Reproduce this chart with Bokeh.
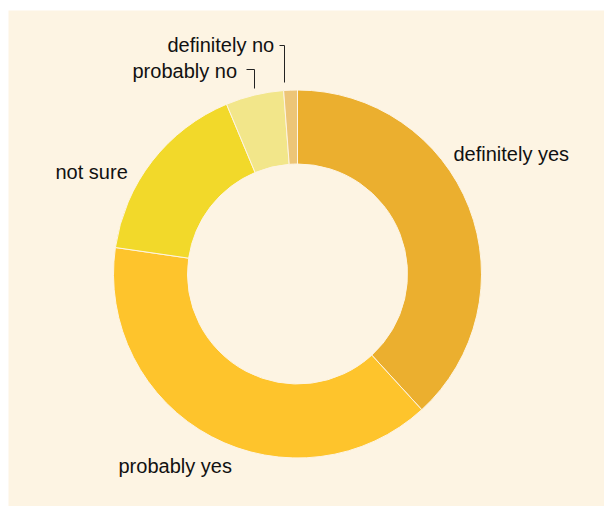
import numpy as np
from bokeh.plotting import figure
from bokeh.models import ColumnDataSource
from bokeh.core.properties import value
from bokeh.embed import file_html
from bokeh.resources import INLINE

# ---- data ----
categories = ["definitely yes", "probably yes", "not sure", "probably no", "definitely no"]
shares = [38.2, 39.1, 16.4, 5.1, 1.2]
colors = ["#EBAF2F", "#FEC42C", "#F2D92A", "#F2E68A", "#EDC577"]

# ---- layout (page pixel coordinates) ----
BG = "#FDF4E3"
W, H = 596, 496
OX, OY = 8, 10          # figure origin on the page
CX, CY = 297, 273.5     # donut centre on the page
R_OUT, R_IN = 184, 110

label_pos = {            # left x, middle y (page px)
    "definitely yes": (453, 153),
    "probably yes": (118, 465),
    "not sure": (55, 171),
    "probably no": (132, 70),
    "definitely no": (167, 44),
}
leaders = {
    "probably no": [(246, 69), (254, 69), (254, 88)],
    "definitely no": [(279, 45), (284, 45), (284, 82)],
}

def px(x):
    return x - OX

def py(y):
    return H - (y - OY)

# ---- wedges ----
vals = np.array(shares, dtype=float)
frac = vals / vals.sum()
cum = np.concatenate([[0.0], np.cumsum(frac)])
start = np.pi / 2 - cum[:-1] * 2 * np.pi
end = np.pi / 2 - cum[1:] * 2 * np.pi

src = ColumnDataSource(dict(cat=categories, start=start, end=end, color=colors))

p = figure(width=W, height=H, x_range=(0, W), y_range=(0, H),
           output_backend="svg", toolbar_location=None, min_border=0)
p.margin = (OY, 0, 0, OX)
p.axis.visible = False
p.grid.visible = False
p.outline_line_color = None
p.background_fill_color = BG
p.border_fill_color = BG

p.annular_wedge(x=px(CX), y=py(CY), inner_radius=R_IN, outer_radius=R_OUT,
                start_angle="start", end_angle="end", direction="clock",
                fill_color="color", line_color=BG, line_width=1, source=src)

# ---- labels ----
lx = [px(label_pos[c][0]) for c in categories]
ly = [py(label_pos[c][1]) for c in categories]
p.text(x=lx, y=ly, text=categories, text_font=value("Liberation Sans"),
       text_font_size="20px", text_color="#111111",
       text_align="left", text_baseline="middle")

for c, pts in leaders.items():
    p.line([px(a) for a, b in pts], [py(b) for a, b in pts],
           line_color="#222222", line_width=1)

open("out.html", "w").write(file_html(p, INLINE))
